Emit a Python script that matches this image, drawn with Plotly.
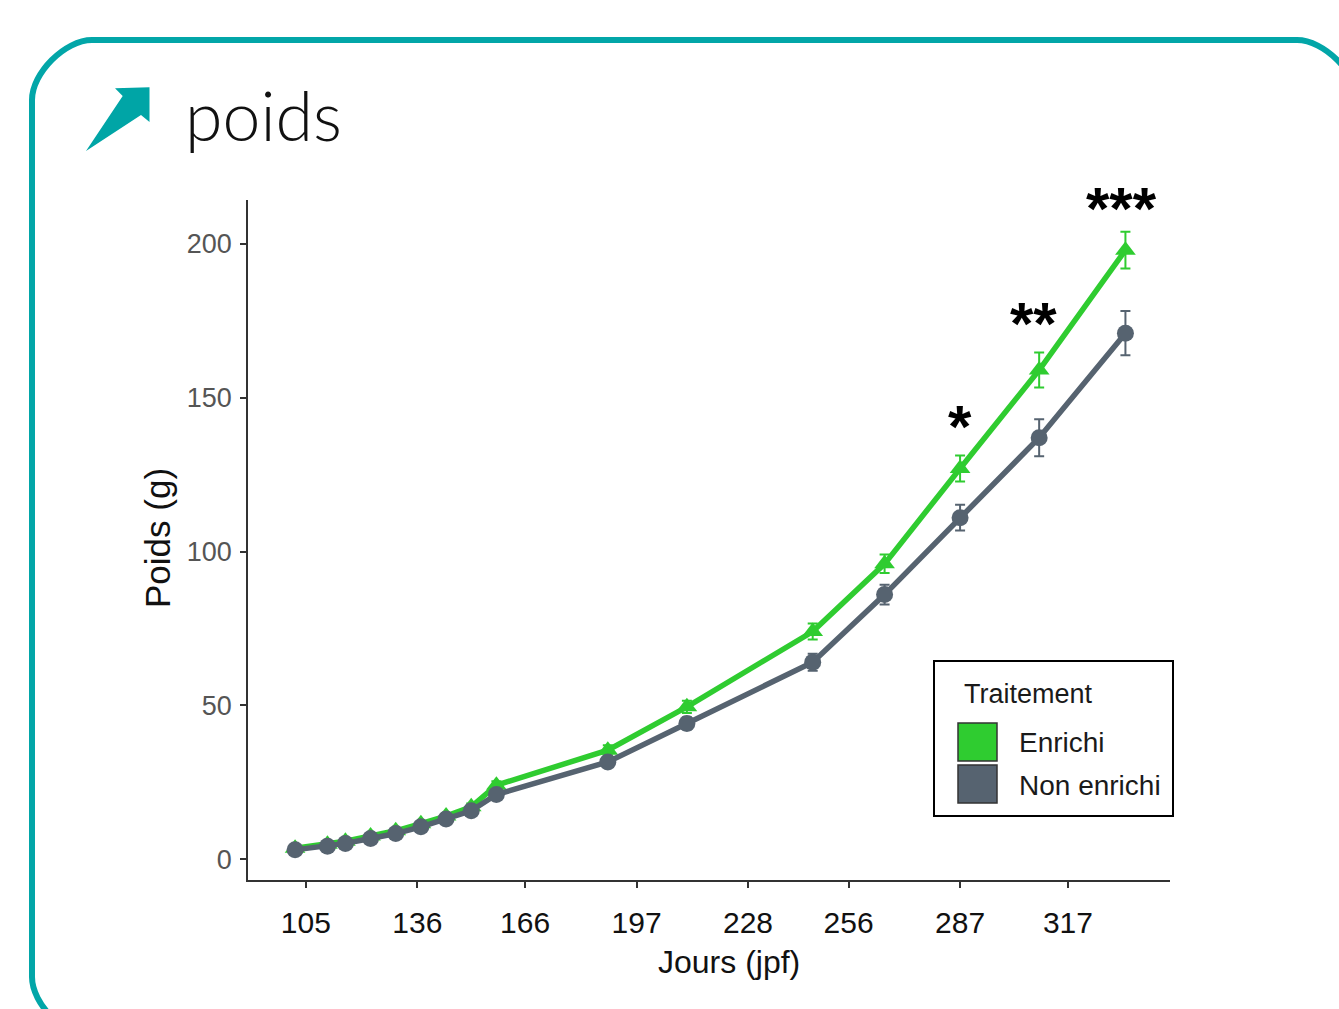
import plotly.graph_objects as go

# ---------------- data ----------------
days = [102, 111, 116, 123, 130, 137, 144, 151, 158, 189, 211, 246, 266, 287, 309, 333]
enrichi = [3.5, 4.8, 5.8, 7.5, 9.2, 11.5, 14.0, 17.0, 24.0, 35.4, 49.5, 74.0, 96.0, 127.0, 159.0, 198.0]
enrichi_err = [0.6, 0.6, 0.6, 0.7, 0.8, 0.9, 1.0, 1.1, 1.3, 1.6, 2.0, 2.6, 3.0, 4.2, 5.7, 6.0]
non_enrichi = [3.0, 4.2, 5.1, 6.7, 8.3, 10.5, 13.0, 15.7, 21.0, 31.6, 44.1, 64.0, 86.0, 111.0, 137.0, 171.0]
non_enrichi_err = [0.6, 0.6, 0.6, 0.7, 0.8, 0.9, 1.0, 1.1, 1.3, 1.6, 2.0, 2.8, 3.2, 4.2, 6.0, 7.2]
x_ticks = [105, 136, 166, 197, 228, 256, 287, 317]
y_ticks = [0, 50, 100, 150, 200]
signif_x = [287, 307.5, 332]
signif_y = [140.5, 174.2, 211.7]
signif_txt = ["*", "**", "***"]
series_names = ["Enrichi", "Non enrichi"]

GREEN = "#2FCC30"
GRAY = "#566370"
TEAL = "#02A6A8"

W, H = 1339, 1009
L, R, T, B = 248, 1170, 200, 880  # plot area in pixels


def px(x):
    return (x - L) / (R - L)


def py(y):
    return 1 - (y - T) / (B - T)


fig = go.Figure()
fig.add_trace(go.Scatter(
    x=days, y=enrichi, name=series_names[0], mode="lines+markers",
    line=dict(color=GREEN, width=5.5),
    marker=dict(symbol="triangle-up", size=18, color=GREEN),
    error_y=dict(type="data", array=enrichi_err, color=GREEN, thickness=2, width=5),
    showlegend=False,
))
fig.add_trace(go.Scatter(
    x=days, y=non_enrichi, name=series_names[1], mode="lines+markers",
    line=dict(color=GRAY, width=5.5),
    marker=dict(symbol="circle", size=17, color=GRAY),
    error_y=dict(type="data", array=non_enrichi_err, color=GRAY, thickness=2, width=5),
    showlegend=False,
))

annotations = []
for sx, sy, st in zip(signif_x, signif_y, signif_txt):
    annotations.append(dict(x=sx, y=sy, xref="x", yref="y", text=st, showarrow=False,
                            font=dict(family="Liberation Sans", size=60, color="black", weight="bold"),
                            xanchor="center", yanchor="middle"))

# title
annotations.append(dict(x=px(183), y=py(114), xref="paper", yref="paper", text="poids",
                        showarrow=False, xanchor="left", yanchor="middle",
                        font=dict(family="Lato", size=68, color="#111111", weight=300)))
# axis titles
annotations.append(dict(x=px(729), y=py(962), xref="paper", yref="paper", text="Jours (jpf)",
                        showarrow=False, xanchor="center", yanchor="middle",
                        font=dict(family="Liberation Sans", size=32, color="#111111")))
annotations.append(dict(x=px(157), y=py(538), xref="paper", yref="paper", text="Poids (g)",
                        showarrow=False, xanchor="center", yanchor="middle", textangle=-90,
                        font=dict(family="Liberation Sans", size=35, color="#111111")))
# legend texts
annotations.append(dict(x=px(962), y=py(694), xref="paper", yref="paper", text="Traitement",
                        showarrow=False, xanchor="left", yanchor="middle",
                        font=dict(family="Liberation Sans", size=27, color="#1a1a1a")))
annotations.append(dict(x=px(1017), y=py(742), xref="paper", yref="paper", text=series_names[0],
                        showarrow=False, xanchor="left", yanchor="middle",
                        font=dict(family="Liberation Sans", size=28, color="#1a1a1a")))
annotations.append(dict(x=px(1017), y=py(785), xref="paper", yref="paper", text=series_names[1],
                        showarrow=False, xanchor="left", yanchor="middle",
                        font=dict(family="Liberation Sans", size=28, color="#1a1a1a")))


def path_px(cmds):
    out = []
    for c in cmds:
        if isinstance(c, str):
            out.append(c)
        else:
            out.append(f"{px(c[0]):.5f},{py(c[1]):.5f}")
    return " ".join(out)


# rounded frame
fl, ft, fr, fb, rad = 32, 40, 1357, 1037, 60
k = rad * 0.45
frame = path_px([
    "M", (fl, ft + rad), "C", (fl, ft + rad - k), (fl + rad - k, ft), (fl + rad, ft),
    "L", (fr - rad, ft), "C", (fr - rad + k, ft), (fr, ft + rad - k), (fr, ft + rad),
    "L", (fr, fb - rad), "C", (fr, fb - rad + k), (fr - rad + k, fb), (fr - rad, fb),
    "L", (fl + rad, fb), "C", (fl + rad - k, fb), (fl, fb - rad + k), (fl, fb - rad), "Z",
])
arrow = path_px(["M", (115, 88.3), "L", (149.5, 87.3), "L", (149.5, 122), "L", (141, 115),
                 "L", (86, 151), "L", (122.7, 96), "Z"])

shapes = [
    dict(type="path", xref="paper", yref="paper", path=frame, line=dict(color=TEAL, width=6),
         fillcolor="rgba(0,0,0,0)"),
    dict(type="path", xref="paper", yref="paper", path=arrow, line=dict(width=0), fillcolor="#00A5A6"),
    # legend box
    dict(type="rect", xref="paper", yref="paper", x0=px(934), x1=px(1173), y0=py(816), y1=py(661),
         line=dict(color="black", width=2), fillcolor="white", layer="below"),
    dict(type="rect", xref="paper", yref="paper", x0=px(958), x1=px(997), y0=py(761), y1=py(723),
         line=dict(color="#333333", width=1.5), fillcolor=GREEN),
    dict(type="rect", xref="paper", yref="paper", x0=px(958), x1=px(997), y0=py(803), y1=py(765),
         line=dict(color="#333333", width=1.5), fillcolor=GRAY),
]

fig.update_layout(
    width=W, height=H,
    margin=dict(l=L, r=W - R, t=T, b=H - B),
    paper_bgcolor="white", plot_bgcolor="white",
    annotations=annotations, shapes=shapes,
    showlegend=False,
    xaxis=dict(range=[88.9, 345.4], tickvals=x_ticks, ticktext=[str(v) for v in x_ticks],
               showline=True, linecolor="#333333", linewidth=1.5, ticks="outside", ticklen=6,
               tickcolor="#333333", tickwidth=1.5, showgrid=False, zeroline=False,
               ticklabelstandoff=9,
               tickfont=dict(family="Liberation Sans", size=30, color="#111111")),
    yaxis=dict(range=[-6.8, 214.3], tickvals=y_ticks,
               showline=True, linecolor="#333333", linewidth=1.5, ticks="outside", ticklen=6,
               tickcolor="#333333", tickwidth=1.5, showgrid=False, zeroline=False,
               ticklabelstandoff=3,
               tickfont=dict(family="Liberation Sans", size=27, color="#555555")),
)

fig.write_html("out.html", config={"displayModeBar": False},
               post_script="document.body.style.margin='0';document.body.style.overflow='hidden';")
